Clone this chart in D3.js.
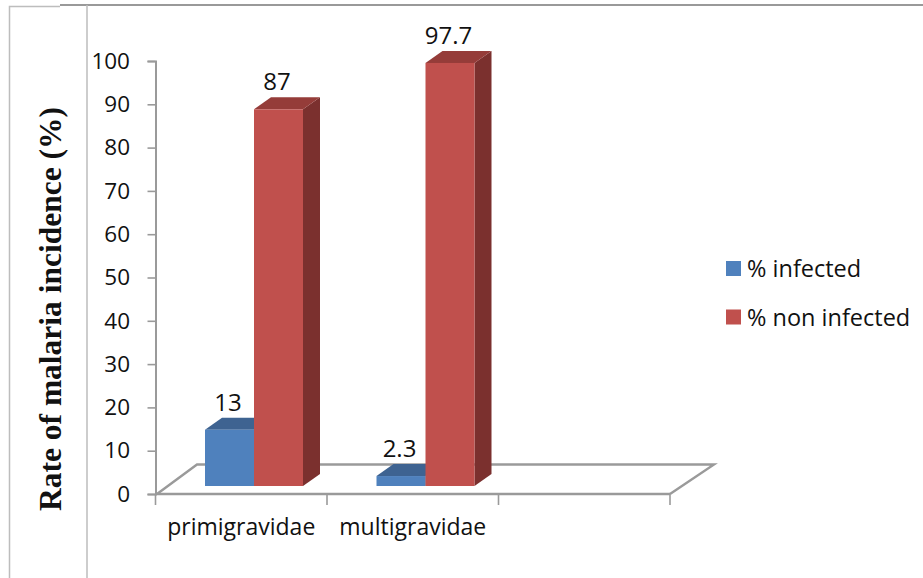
<!DOCTYPE html>
<html>
<head>
<meta charset="utf-8">
<script src="https://cdn.jsdelivr.net/npm/d3@7/dist/d3.min.js"></script>
<style>
html,body{margin:0;padding:0;background:#fff;}
svg{display:block;}
text{font-family:"Open Sans",Lato,sans-serif;fill:#111;}
</style>
</head>
<body>
<svg id="chart" width="923" height="578"></svg>
<script>
// Malaria incidence by gravidity, drawn as a 3D-style clustered column chart
const categories = ["primigravidae", "multigravidae", ""];
const seriesNames = ["% infected", "% non infected"];
const infected = [13, 2.3];
const nonInfected = [87, 97.7];
const valueLabels = [["13", "2.3"], ["87", "97.7"]];
const yTicks = [0, 10, 20, 30, 40, 50, 60, 70, 80, 90, 100];
const axisTitle = "Rate of malaria incidence (%)";

const labelFont = "'Open Sans',Lato,sans-serif";
const faceColors = ["#4f81bd", "#c0504d"];
const topColors = ["#3e6391", "#953c39"];
const sideColors = ["#35557c", "#7b302e"];
const axisGray = "#9a9a9a";

const svg = d3.select("#chart");

// Page frame lines around the chart
const frame = svg.append("g").attr("fill", "none");
frame.append("path").attr("d", "M9.5,578V6.5H60").attr("stroke", "#bdbdbd").attr("stroke-width", 1.5);
frame.append("path").attr("d", "M60,5H923").attr("stroke", "#999").attr("stroke-width", 2);
frame.append("path").attr("d", "M87,5V578").attr("stroke", "#bdbdbd").attr("stroke-width", 1.5);

// Scales: the value axis stands on the front of the floor, the columns stand 8px behind it
const axisBottom = 494, axisTop = 61, frontBase = 486;
const x = d3.scaleBand().domain(categories).range([155.5, 670]);
const series = d3.scaleBand().domain(d3.range(seriesNames.length)).range([49.5, 147.5]);
const y = d3.scaleLinear().domain([0, 100]).range([axisBottom, axisTop]);
const barHeight = v => y(0) - y(v);
const depthX = 17, depthY = 12;

// Floor of the plot box
svg.append("path")
  .attr("d", "M157,494L197,464.5H714L670,494")
  .attr("fill", "none").attr("stroke", axisGray).attr("stroke-width", 2.4);

// Value axis
const yAxis = d3.axisLeft(y).tickValues(yTicks).tickSize(8).tickPadding(17.5);
const yG = svg.append("g").attr("transform", "translate(155.5,0)").call(yAxis);
yG.select(".domain").attr("stroke", axisGray).attr("stroke-width", 2);
yG.selectAll(".tick line").attr("stroke", axisGray).attr("stroke-width", 1.6);
yG.selectAll(".tick text").attr("font-size", 22.5).style("font-family", labelFont).attr("fill", "#111");

// Category axis
const xAxis = d3.axisBottom(x).tickSize(10).tickPadding(15);
const xG = svg.append("g").attr("transform", `translate(0,${axisBottom})`).call(xAxis);
xG.select(".domain").attr("stroke", axisGray).attr("stroke-width", 2.4).attr("d", "M155.5,0H670");
xG.selectAll(".tick line").remove();
xG.selectAll(".edge").data([0, 1, 2, 3]).join("line").attr("class", "edge")
  .attr("x1", i => 155.5 + i * x.step()).attr("x2", i => 155.5 + i * x.step())
  .attr("y1", 0).attr("y2", 11).attr("stroke", axisGray).attr("stroke-width", 1.6);
xG.selectAll(".tick text").attr("font-size", 23).style("font-family", labelFont).attr("fill", "#111");

// Columns: blue first so the red fronts overlap their neighbours' depth faces
const rows = [infected, nonInfected];
rows.forEach((values, s) => {
  const g = svg.append("g");
  values.forEach((v, i) => {
    const x0 = x(categories[i]) + series(s);
    const x1 = x0 + series.bandwidth();
    const yBase = frontBase;
    const yTop = frontBase - barHeight(v);
    g.append("path").attr("fill", sideColors[s])
      .attr("d", `M${x1},${yTop}L${x1 + depthX},${yTop - depthY}V${yBase - depthY}L${x1},${yBase}Z`);
    g.append("path").attr("fill", topColors[s])
      .attr("d", `M${x0},${yTop}L${x0 + depthX},${yTop - depthY}H${x1 + depthX}L${x1},${yTop}Z`);
    g.append("rect").attr("fill", faceColors[s])
      .attr("x", x0).attr("y", yTop).attr("width", x1 - x0).attr("height", yBase - yTop);
    g.append("text").attr("x", (x0 + x1) / 2 - 1.5)
      .attr("y", yTop - 19)
      .attr("text-anchor", "middle").attr("font-size", 24)
      .text(valueLabels[s][i]);
  });
});

// Rotated serif axis title
svg.append("text")
  .attr("transform", "translate(61,309) rotate(-90)")
  .attr("text-anchor", "middle")
  .style("font-family", "'Liberation Serif',serif")
  .style("font-weight", "bold").style("font-size", "31.5px")
  .text(axisTitle);

// Legend
const legend = svg.append("g").selectAll("g").data(seriesNames).join("g")
  .attr("transform", (d, i) => `translate(726,${261 + i * 48.5})`);
legend.append("rect").attr("width", 15).attr("height", 15).attr("fill", (d, i) => faceColors[i]);
legend.append("text").attr("x", 21).attr("y", 16).attr("font-size", 23.5).text(d => d);
</script>
</body>
</html>
